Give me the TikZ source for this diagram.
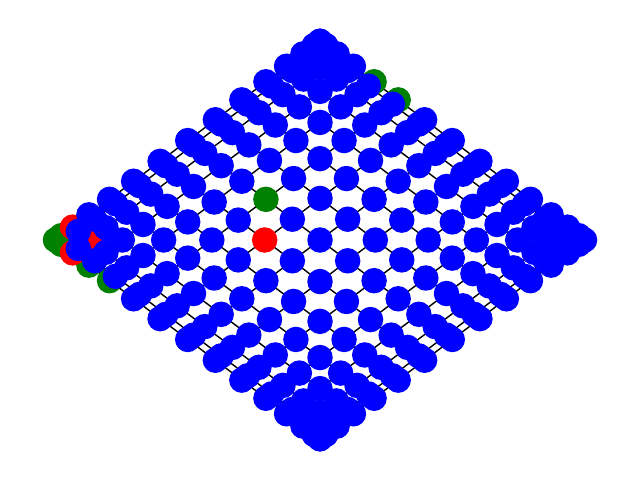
\documentclass[tikz,border=0pt]{standalone}
\definecolor{lgreen}{HTML}{008000}
\definecolor{lred}{HTML}{FF0000}
\definecolor{lblue}{HTML}{0000FF}
\pgfdeclarelayer{edges}
\pgfdeclarelayer{lgreen}
\pgfdeclarelayer{lred}
\pgfdeclarelayer{lblue}
\pgfsetlayers{edges,lgreen,lred,lblue,main}
% colored nodes
\expandafter\def\csname gcol-7-9\endcsname{lgreen}
\expandafter\def\csname gcol-14-14\endcsname{lgreen}
\expandafter\def\csname gcol-13-14\endcsname{lgreen}
\expandafter\def\csname gcol-14-13\endcsname{lgreen}
\expandafter\def\csname gcol-13-13\endcsname{lgreen}
\expandafter\def\csname gcol-14-11\endcsname{lgreen}
\expandafter\def\csname gcol-14-10\endcsname{lgreen}
\expandafter\def\csname gcol-0-10\endcsname{lgreen}
\expandafter\def\csname gcol-0-9\endcsname{lgreen}
\expandafter\def\csname gcol-8-8\endcsname{lred}
\expandafter\def\csname gcol-12-14\endcsname{lred}
\expandafter\def\csname gcol-14-12\endcsname{lred}
\expandafter\def\csname gcol-12-12\endcsname{lred}
\begin{document}
\begin{tikzpicture}[x=1pt,y=-1pt,
  nd/.style={circle,inner sep=0pt,minimum size=25.5pt,draw=none},
  ed/.style={line width=1.4pt,black}]
\useasboundingbox (0,0) rectangle (640,480);
\foreach \i in {0,...,14}{
  \foreach \j in {0,...,14}{
    \pgfmathsetmacro\ui{cos(12*\i+6)}
    \pgfmathsetmacro\uj{cos(12*\j+6)}
    \pgfmathsetmacro\X{320+133*(\ui+\uj)}
    \pgfmathsetmacro\Y{240-100*(\ui-\uj)}
    \ifcsname gcol-\i-\j\endcsname
      \edef\lay{\csname gcol-\i-\j\endcsname}
    \else
      \def\lay{lblue}
    \fi
    \begin{pgfonlayer}{\lay}
      \node[nd,fill=\lay] (n-\i-\j) at (\X,\Y) {};
    \end{pgfonlayer}
  }
}
\begin{pgfonlayer}{edges}
\foreach \i in {0,...,14}{
  \foreach \j in {0,...,14}{
    \pgfmathtruncatemacro\k{\i+1}
    \pgfmathtruncatemacro\l{\j+1}
    \ifnum\i<14 \draw[ed] (n-\i-\j.center) -- (n-\k-\j.center); \fi
    \ifnum\j<14 \draw[ed] (n-\i-\j.center) -- (n-\i-\l.center); \fi
  }
}
\end{pgfonlayer}
\end{tikzpicture}
\end{document}
